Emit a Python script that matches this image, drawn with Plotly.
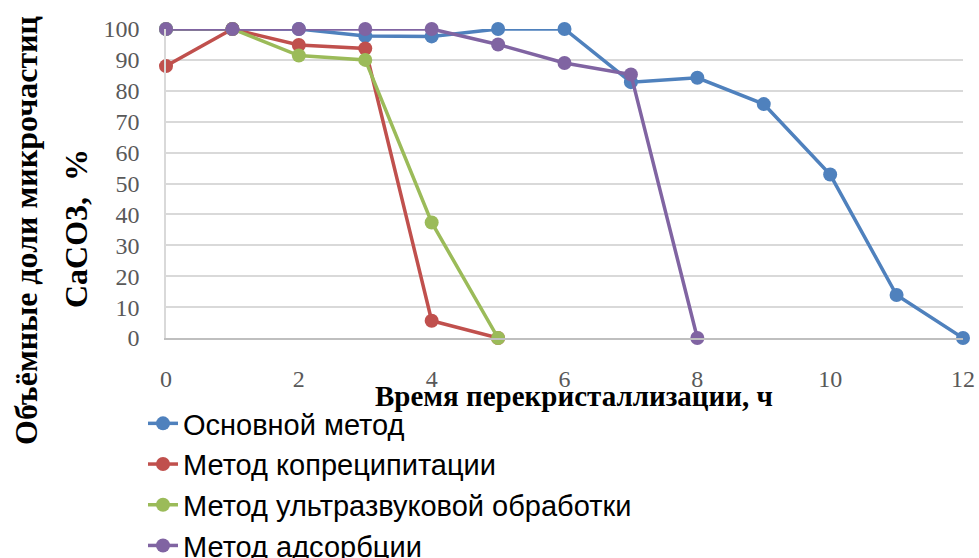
import plotly.graph_objects as go

# Recrystallization time, h
hours = list(range(13))

# Volume fraction of CaCO3 microparticles, %
basic = [100, 100, 100, 97.7, 97.6, 100, 100, 82.8, 84.2, 75.7, 52.9, 13.9, 0]
coprecip = [88, 100, 94.8, 93.7, 5.6, 0]
ultrasound = [100, 100, 91.4, 90, 37.4, 0]
adsorption = [100, 100, 100, 100, 100, 95, 89, 85.3, 0]

series = [
    ("Основной метод", basic, "#4F81BD"),
    ("Метод копреципитации", coprecip, "#C0504D"),
    ("Метод ультразвуковой обработки", ultrasound, "#9BBB59"),
    ("Метод адсорбции", adsorption, "#8064A2"),
]

x_ticks = [0, 2, 4, 6, 8, 10, 12]
y_ticks = [0, 10, 20, 30, 40, 50, 60, 70, 80, 90, 100]

fig = go.Figure()
for i, (name, vals, color) in enumerate(series):
    fig.add_trace(go.Scatter(
        x=hours[:len(vals)], y=vals, name=name, mode="lines+markers",
        line=dict(color=color, width=3.5),
        marker=dict(color=color, size=14),
        legendgroup=f"g{i}",
        cliponaxis=False,
    ))

W, H = 979, 558
L, R, T, B = 166, 16, 29, 220
pw, ph = W - L - R, H - T - B

def px_x(p):
    return (p - L) / pw

def px_y(p):
    return (H - B - p) / ph

serif = "Liberation Serif, Times New Roman, serif"

fig.update_layout(
    width=W, height=H,
    margin=dict(l=L, r=R, t=T, b=B, autoexpand=False),
    paper_bgcolor="white", plot_bgcolor="white",
    showlegend=True,
    legend=dict(
        x=px_x(143), y=px_y(398), xanchor="left", yanchor="top",
        font=dict(family="Liberation Sans, Arial, sans-serif", size=29, color="black"),
        bgcolor="rgba(0,0,0,0)", itemwidth=30, tracegroupgap=0,
    ),
    xaxis=dict(
        range=[0, 12], tickvals=x_ticks, showgrid=False, zeroline=False,
        showline=True, linecolor="#BFBFBF", linewidth=1.5,
        tickfont=dict(family=serif, size=24, color="#595959"),
        ticklabelstandoff=18,
    ),
    yaxis=dict(
        range=[0, 100], tickvals=y_ticks, showgrid=True, gridcolor="#D9D9D9",
        gridwidth=1.5, zeroline=False, showline=True, linecolor="#D9D9D9",
        linewidth=1.5,
        tickfont=dict(family=serif, size=24, color="#595959"),
        ticklabelstandoff=20,
    ),
    annotations=[
        dict(text="<b>Время перекристаллизации, ч</b>", xref="paper", yref="paper",
             x=px_x(574), y=px_y(396), xanchor="center", yanchor="middle",
             showarrow=False, font=dict(family=serif, size=29, color="black")),
        dict(text="<b>Объёмные доли микрочастиц</b>", xref="paper", yref="paper",
             x=px_x(26), y=px_y(231), xanchor="center", yanchor="middle",
             textangle=-90, showarrow=False,
             font=dict(family=serif, size=32, color="black")),
        dict(text="<b>CaCO3,  %</b>", xref="paper", yref="paper",
             x=px_x(76), y=px_y(229), xanchor="center", yanchor="middle",
             textangle=-90, showarrow=False,
             font=dict(family=serif, size=32, color="black")),
    ],
)

fig.write_html("out.html")
